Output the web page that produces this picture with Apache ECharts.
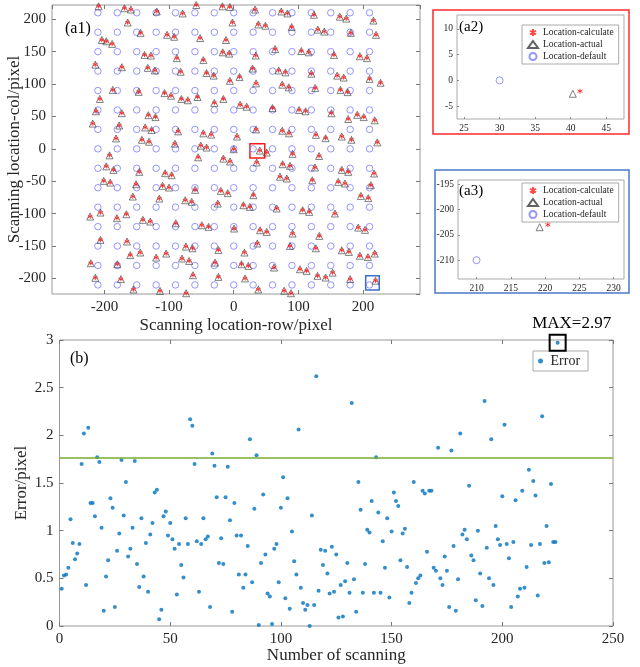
<!DOCTYPE html>
<html><head><meta charset="utf-8">
<script src="https://cdn.jsdelivr.net/npm/echarts@6/dist/echarts.min.js"></script>
<style>html,body{margin:0;padding:0;background:#fff}#c{width:640px;height:667px}</style>
</head><body><div id="c"></div>
<script>
// ---------- DATA ----------
// default scanning grid coordinates (pixel), used for both row and col
const gridCoords = [-210,-180,-150,-120,-90,-60,-30,0,30,60,90,120,150,180,210];
// actual locations (a1)
const actualPts = [
[-209,220],[-169,217],[-159,215],[-119,212],[-79,209],[-58,222],[-17.5,220],[-6,219],[-164,195],[-2,195],
[-204,168],[-197,166],[-188,162],[-144,179],[-103,176],[-92,173],[-52,171],[-12,168],[-138,145],[-128,144],
[-88,140],[-47,137],[-17,149],[-7,147],[-214,130],[-173,126],[-133,125],[-122,121],[-82,119],[-42,117],
[-31,113],[-6,105],[9,111],[-187,91],[-147,88],[-107,86],[-97,82],[-81,77],[-71,75],[-56,80],
[-16,77],[-207,77],[-30,71],[10,68],[20,65],[-213,58],[-173,55],[-132,52],[-121,49],[-218,39],
[-177,36],[-137,33],[-127,29],[-86,27],[-47,24],[-35,22],[5,19],[-182,16],[-142,14],[-131,11],
[-91,8],[-51,5],[-42,2],[0,-0.5],[-192,-10],[-55,-13],[-16,-15],
[33,215],[73.6,212],[83,209],[124,207],[164,204],[174,201],[216,198],[38,192],[49,190],[89.5,188],
[130,184],[140,181],[181,179],[220,176],[64,154],[104.5,151],[116,149],[155,145],[195,143],[206,140],
[34,144],[29,124],[69.5,121],[80,118],[120,116],[160,113],[170,110],[210,108],[227,102],[34.5,101],
[75,99],[85,95],[126,94],[165,91],[176,87.5],[60,63],[101,60],[111,58],[151,55],[177,46],
[191,52.5],[201,49],[218,44],[34.5,30],[75,28],[85.5,24],[127,21.6],[142,16.5],[167,19],[182,14],
[222,10],[40.3,-2.6],[51,-5.7],[91,-7.7],[132,-11],
[-5.7,-19.5],[35.5,-21],[-197,-27],[-186,-32.5],[-146,-35.5],[-106,-37.6],[-96,-40.7],[75.6,-23.7],[87,-26.2],[125.6,-28.8],
[167,-32.4],[177,-35.5],[217,-38],[-201,-49.4],[-191,-52],[-151,-54.6],[-110,-57],[-100,-59.7],[-59.7,-63.3],[-20,-64.8],
[-9.3,-68.4],[30.4,-71.5],[71.5,-43],[82,-45.8],[121.5,-48.4],[161.6,-51],[172,-53.5],[212,-56],[-156,-73.6],[-115,-76.7],
[-75,-79.3],[-65,-81.8],[-24.7,-84.4],[15,-87],[25,-89.5],[66.4,-92],[106.5,-94.7],[116.8,-97.3],[156.5,-99.8],[196.6,-72.6],
[208,-76],[-222,-104.5],[-206,-98.3],[-180.6,-107],[-166,-100.9],[-140.5,-109.6],[-129,-112.2],[-89.6,-114.8],[-49.4,-117.9],[-39,-120.4],
[0.5,-123],[40.7,-125.6],[51,-128.2],[91,-130.7],[132.3,-134.3],[192.5,-121.5],[203,-125],[-206,-140.5],[-165,-143],[-74,-150.8],
[-63.8,-153.4],[-23.7,-156],[16.5,-160],[36.5,-146],[87,-149.8],[127,-153.4],[167,-156.5],[178,-159],[218,-161.6],[195,-165],
[207.5,-167],[-221,-176.5],[-180,-178],[-160,-164],[-144.6,-160],[-120,-167.8],[-104.5,-161.6],[-80,-169.3],[-69,-173],[-28.8,-175.5],
[12,-178],[22.6,-180.6],[62.3,-183.2],[102.4,-185.8],[112.7,-188.3],[152.9,-191],[-214,-199],[-174.5,-201],[-155,-217],[-114,-219.2],
[-73.6,-222.8],[-63,-195],[-23.7,-197.6],[17.5,-200],[38,-217],[78,-219],[88.5,-222.8],[129.6,-196],[142,-198.6],[180,-201],
[219.2,-203.5]
];
// calculated locations coincide with actual ones at the scale of panel (a1)
const calcPts = actualPts;
// zoomed panels
const a2Default = [[30,0]];
const a2Actual = [[40.3,-2.6]];
const a2Calc = [[41.3,-2.1]];
const a3Default = [[210,-210]];
const a3Actual = [[219.2,-203.5]];
const a3Calc = [[220.4,-203.0]];
// highlight boxes in (a1): [[x1,y1],[x2,y2]]
const boxA2 = [[25,8],[48,-14]];
const boxA3 = [[204,-196],[225,-218]];
// panel (b): error of each scan
const errors = [
0.39,0.53,0.54,0.61,1.12,0.87,0.70,0.76,0.86,1.70,
2.02,0.43,2.08,1.29,1.29,1.15,1.77,1.72,1.03,0.16,
0.52,0.69,1.34,1.24,0.20,0.79,0.97,1.74,1.16,1.51,
0.73,0.81,1.03,1.73,0.65,0.41,1.13,0.52,0.87,0.36,
0.96,1.08,1.40,1.43,0.07,0.17,1.15,1.20,0.95,1.08,
0.91,0.81,0.33,0.86,0.64,0.51,1.13,0.86,2.17,2.10,
1.70,0.89,0.36,0.86,1.13,0.91,0.94,0.20,1.81,1.68,
1.35,0.66,0.92,0.65,1.35,1.67,1.11,0.15,1.29,0.95,
0.54,0.95,0.40,0.54,0.84,1.96,0.46,1.23,1.79,0.01,
0.66,1.38,0.75,0.34,0.31,0.02,0.81,0.86,0.46,1.24,
1.56,0.29,1.34,0.18,0.99,0.68,0.54,2.06,0.40,0.24,
0.17,0.22,0.00,1.16,0.22,2.62,0.37,0.80,0.64,0.79,
0.55,0.34,0.83,0.36,0.75,0.09,0.43,0.10,0.47,0.66,
0.35,2.34,0.49,0.15,1.51,1.22,0.35,0.65,1.01,0.98,
1.31,0.35,1.77,1.19,0.35,0.89,0.61,1.13,0.30,0.99,
1.40,1.31,1.26,0.69,0.97,1.02,0.62,0.24,0.35,1.51,
0.45,0.50,0.53,1.42,1.39,0.78,1.42,1.42,0.61,0.58,
1.87,0.50,0.43,0.73,0.58,0.20,1.84,0.84,0.16,0.49,
2.02,0.96,1.01,0.91,1.47,0.74,0.69,0.27,1.00,0.55,
0.21,2.36,0.82,0.50,1.96,0.43,1.05,0.91,0.85,1.36,
2.11,0.86,0.71,0.20,0.88,1.32,0.31,0.39,1.42,0.40,
0.62,1.64,0.85,1.52,1.37,0.32,0.86,2.20,0.66,1.05,
0.67,1.49,0.88,0.88,2.97
];
const threshold = 1.76;

// ---------- BUILD ----------
const F = 'Liberation Serif';
const defaultPts = [];
gridCoords.forEach(x => gridCoords.forEach(y => defaultPts.push([x, y])));
const errData = errors.map((v, i) => [i + 1, v]);
let maxIdx = 0; errors.forEach((v, i) => { if (v > errors[maxIdx]) maxIdx = i; });

const STAR = 'path://M0,-10L0,10M-8.66,-5L8.66,5M-8.66,5L8.66,-5';
const stStar = {color:'rgba(0,0,0,0)', borderColor:'#ff1a1a', borderWidth:1};
const stTri = {color:'rgba(0,0,0,0)', borderColor:'#3a3a3a', borderWidth:0.8};
const stCir = {color:'rgba(0,0,0,0)', borderColor:'#7a7aff', borderWidth:1};

function ax(gi, min, max, split, opts) {
  return Object.assign({
    type:'value', gridIndex:gi, min, max, splitNumber:split, nameMoveOverlap:false,
    axisLine:{show:false, onZero:false}, splitLine:{show:false},
    axisTick:{show:true, inside:true, length:4, lineStyle:{color:'#777'}},
    axisLabel:{fontFamily:F, fontSize:15, color:'#262626', showMinLabel:false, showMaxLabel:false, margin:6}
  }, opts || {});
}
const noLabel = {axisLabel:{show:false}};
const smallLab = {fontFamily:F, fontSize:9.5, color:'#262626', showMinLabel:false, showMaxLabel:false, margin:4};
const smallTick = {show:true, inside:true, length:2, lineStyle:{color:'#888'}};
const bigName = {fontFamily:F, fontSize:17, color:'#262626'};

const chart = echarts.init(document.getElementById('c'), null, {renderer:'canvas'});
chart.setOption({
  animation:false,
  backgroundColor:'#fff',
  grid:[
    {left:52, top:5, width:368, height:289, show:true, borderColor:'#999', borderWidth:1, outerBoundsMode:'none', containLabel:false},
    {left:457, top:15, width:167, height:104, show:true, borderColor:'#aaa', borderWidth:1, outerBoundsMode:'none', containLabel:false},
    {left:458, top:180, width:166, height:99, show:true, borderColor:'#aaa', borderWidth:1, outerBoundsMode:'none', containLabel:false},
    {left:59.5, top:340, width:553.5, height:286, show:true, borderColor:'#999', borderWidth:1, outerBoundsMode:'none', containLabel:false}
  ],
  xAxis:[
    ax(0, -281, 288, 5, {name:'Scanning location-row/pixel', nameLocation:'middle', nameGap:23, nameTextStyle:bigName}),
    ax(0, -281, 288, 5, Object.assign({position:'top'}, noLabel)),
    ax(1, 24, 47.5, 5, {axisLabel:smallLab, axisTick:smallTick}),
    ax(2, 207.3, 231.5, 5, {axisLabel:smallLab, axisTick:smallTick}),
    ax(3, 0, 250, 5, {interval:50, name:'Number of scanning', nameLocation:'middle', nameGap:21,
      axisLabel:{fontFamily:F, fontSize:15, color:'#262626', margin:6}, nameTextStyle:bigName}),
    ax(3, 0, 250, 5, Object.assign({interval:50, position:'top'}, noLabel))
  ],
  yAxis:[
    ax(0, -224, 222, 9, {name:'Scanning location-col/pixel', nameLocation:'middle', nameGap:29, nameTextStyle:bigName}),
    ax(0, -224, 222, 9, Object.assign({position:'right'}, noLabel)),
    ax(1, -7.5, 12.7, 4, {axisLabel:smallLab, axisTick:smallTick}),
    ax(2, -213.7, -194.2, 4, {axisLabel:smallLab, axisTick:smallTick}),
    ax(3, 0, 3, 6, {interval:0.5, name:'Error/pixel', nameLocation:'middle', nameGap:29,
      axisLabel:{fontFamily:F, fontSize:15, color:'#262626', margin:6}, nameTextStyle:bigName}),
    ax(3, 0, 3, 6, Object.assign({interval:0.5, position:'right'}, noLabel))
  ],
  legend:[
    {orient:'vertical', left:522, top:25, data:['Location-calculate','Location-actual','Location-default'],
     itemWidth:10, itemHeight:7, itemGap:1, padding:[2,5], borderColor:'#aaa', borderWidth:1, backgroundColor:'#fff',
     textStyle:{fontFamily:F, fontSize:9.5, color:'#262626', lineHeight:11}},
    {orient:'vertical', left:522, top:183, data:['Location-calculate','Location-actual','Location-default'],
     itemWidth:10, itemHeight:7, itemGap:1, padding:[2,5], borderColor:'#aaa', borderWidth:1, backgroundColor:'#fff',
     textStyle:{fontFamily:F, fontSize:9.5, color:'#262626', lineHeight:11}},
    {orient:'vertical', left:533, top:351, data:['Error'],
     itemWidth:10, itemHeight:5, padding:[3,8,3,5], borderColor:'#aaa', borderWidth:1, backgroundColor:'#fff',
     textStyle:{fontFamily:F, fontSize:14, color:'#262626'}}
  ],
  series:[
    // a1
    {type:'scatter', name:'a1-default', xAxisIndex:0, yAxisIndex:0, data:defaultPts, symbol:'circle', symbolSize:6.5, itemStyle:stCir,
     markArea:{silent:true, data:[
       [{coord:boxA2[0], itemStyle:{color:'rgba(0,0,0,0)', borderColor:'#ff1a1a', borderWidth:1.5}}, {coord:boxA2[1]}],
       [{coord:boxA3[0], itemStyle:{color:'rgba(0,0,0,0)', borderColor:'#3a6fc4', borderWidth:1.5}}, {coord:boxA3[1]}]
     ]}},
    {type:'scatter', name:'a1-actual', xAxisIndex:0, yAxisIndex:0, data:actualPts, symbol:'triangle', symbolSize:7, itemStyle:stTri},
    {type:'scatter', name:'a1-calc', xAxisIndex:0, yAxisIndex:0, data:calcPts, symbol:STAR, symbolSize:4.5, itemStyle:stStar},
    // a2
    {type:'scatter', name:'Location-calculate', xAxisIndex:2, yAxisIndex:2, data:a2Calc, symbol:STAR, symbolSize:5, itemStyle:stStar, z:5},
    {type:'scatter', name:'Location-actual', xAxisIndex:2, yAxisIndex:2, data:a2Actual, symbol:'triangle', symbolSize:7, itemStyle:stTri},
    {type:'scatter', name:'Location-default', xAxisIndex:2, yAxisIndex:2, data:a2Default, symbol:'circle', symbolSize:7, itemStyle:stCir},
    // a3
    {type:'scatter', name:'Location-calculate', xAxisIndex:3, yAxisIndex:3, data:a3Calc, symbol:STAR, symbolSize:5, itemStyle:stStar, z:5},
    {type:'scatter', name:'Location-actual', xAxisIndex:3, yAxisIndex:3, data:a3Actual, symbol:'triangle', symbolSize:7, itemStyle:stTri},
    {type:'scatter', name:'Location-default', xAxisIndex:3, yAxisIndex:3, data:a3Default, symbol:'circle', symbolSize:7, itemStyle:stCir},
    // b
    {type:'scatter', name:'Error', xAxisIndex:4, yAxisIndex:4, data:errData, symbol:'circle', symbolSize:4, itemStyle:{color:'#0072bd'},
     markLine:{silent:true, symbol:'none', label:{show:false}, lineStyle:{color:'#77ac30', width:1.5, type:'solid'}, data:[{yAxis:threshold}]},
     markPoint:{silent:true, symbol:'rect', symbolSize:16,
       itemStyle:{color:'rgba(0,0,0,0)', borderColor:'#000', borderWidth:2},
       label:{show:true, position:'top', distance:2, offset:[14,0], formatter:'MAX=' + errors[maxIdx].toFixed(2),
         fontFamily:F, fontSize:17, color:'#000'},
       data:[{coord:errData[maxIdx]}]}}
  ],
  graphic:[
    {type:'rect', shape:{x:433, y:10, width:196, height:124}, style:{fill:'none', stroke:'#ff2a2a', lineWidth:1.5}, z:100},
    {type:'rect', shape:{x:435, y:170, width:194, height:123}, style:{fill:'none', stroke:'#4a7acb', lineWidth:1.5}, z:100},
    {type:'text', left:65, top:21, style:{text:'(a1)', font:'16px "Liberation Serif"', fill:'#000'}, z:100},
    {type:'text', left:459, top:20, style:{text:'(a2)', font:'15px "Liberation Serif"', fill:'#000'}, z:100},
    {type:'text', left:459, top:184, style:{text:'(a3)', font:'15px "Liberation Serif"', fill:'#000'}, z:100},
    {type:'text', left:70, top:351, style:{text:'(b)', font:'16px "Liberation Serif"', fill:'#000'}, z:100}
  ]
});
</script></body></html>
